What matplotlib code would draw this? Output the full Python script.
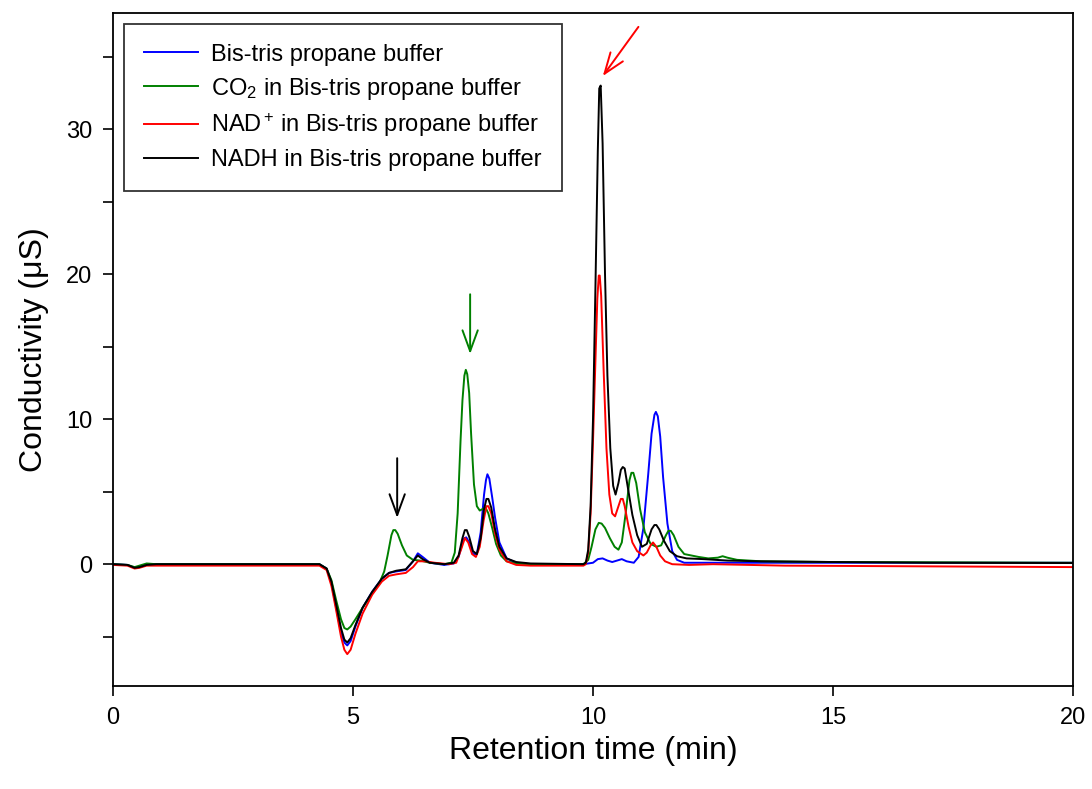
import numpy as np
import matplotlib
matplotlib.use('Agg')
import matplotlib.pyplot as plt
from matplotlib.ticker import MultipleLocator

plt.rcParams['font.family'] = ['Liberation Sans', 'DejaVu Sans']
plt.rcParams['mathtext.fontset'] = 'custom'
plt.rcParams['mathtext.rm'] = 'Liberation Sans'
plt.rcParams['mathtext.it'] = 'Liberation Sans:italic'

#Bis-tris propane buffer (blue)
t_buf = [0, 0.3, 0.45, 0.55, 0.7, 0.9, 4.3, 4.45, 4.55, 4.65, 4.75, 4.82, 4.88, 4.95, 5.05,
         5.2, 5.4, 5.6, 5.75, 5.9, 6.1, 6.25, 6.35, 6.45, 6.6, 6.9, 7.1, 7.2, 7.28, 7.32, 7.36,
         7.42, 7.5, 7.58, 7.66, 7.73, 7.77, 7.8, 7.84, 7.9, 7.96, 8.05, 8.2, 8.4, 8.7, 9.8, 10.0,
         10.1, 10.2, 10.3, 10.4, 10.5, 10.6, 10.7, 10.85, 10.95, 11.05, 11.15, 11.22, 11.28,
         11.31, 11.35, 11.4, 11.46, 11.55, 11.65, 11.75, 11.9, 13, 20]
y_buf = [0, -0.05, -0.25, -0.2, -0.05, 0, 0, -0.3, -1.3, -3.0, -4.7, -5.4, -5.6, -5.3, -4.3,
         -3.0, -1.9, -1.0, -0.6, -0.5, -0.4, 0.2, 0.75, 0.5, 0.1, -0.05, 0.05, 0.5, 1.5, 1.8, 1.85,
         1.5, 0.7, 0.7, 2.2, 4.8, 5.8, 6.2, 5.9, 4.6, 3.2, 1.5, 0.4, 0.1, 0, 0, 0.1,
         0.35, 0.4, 0.25, 0.15, 0.25, 0.35, 0.2, 0.1, 0.5, 2.5, 6.2, 9.0, 10.3,
         10.5, 10.2, 8.8, 6.0, 2.8, 0.9, 0.3, 0.1, 0.1, 0.1]

#CO2 in buffer (green)
t_co2 = [0, 0.3, 0.45, 0.55, 0.7, 0.9, 4.3, 4.45, 4.55, 4.65, 4.75, 4.82, 4.88, 4.95, 5.05,
         5.2, 5.4, 5.55, 5.65, 5.72, 5.8, 5.84, 5.88, 5.93, 6.02, 6.12, 6.25, 6.4, 6.6, 6.9, 7.05,
         7.12, 7.18, 7.24, 7.28, 7.32, 7.35, 7.38, 7.42, 7.46, 7.52, 7.58, 7.64, 7.7, 7.76, 7.82,
         7.9, 7.98, 8.08, 8.2, 8.4, 8.7, 9.8, 9.9, 9.97, 10.05, 10.12, 10.18, 10.25, 10.35, 10.45,
         10.53, 10.6, 10.68, 10.76, 10.8, 10.84, 10.9, 10.98, 11.08, 11.2, 11.32, 11.42, 11.52,
         11.57, 11.62, 11.68, 11.78, 11.9, 12.05, 12.2, 12.4, 12.6, 12.7, 12.8, 13, 13.5, 15, 20]
y_co2 = [0, -0.05, -0.2, -0.1, 0.05, 0, 0, -0.3, -1.1, -2.5, -3.8, -4.4, -4.5, -4.3, -3.8,
         -3.0, -2.0, -1.3, -0.5, 0.6, 2.0, 2.35, 2.35, 2.1, 1.3, 0.6, 0.3, 0.25, 0.1, 0, 0.1,
         0.8, 3.5, 8.5, 11.3, 13.0, 13.4, 13.1, 11.8, 9.0, 5.5, 4.0, 3.7, 3.8, 3.9, 3.5,
         2.5, 1.4, 0.6, 0.2, 0.05, 0, 0, 0.3, 1.2, 2.4, 2.85, 2.8, 2.5, 1.8, 1.2,
         1.0, 1.5, 3.5, 5.8, 6.3, 6.3, 5.6, 3.8, 2.2, 1.4, 1.2, 1.3, 2.0,
         2.3, 2.3, 2.0, 1.2, 0.7, 0.6, 0.5, 0.4, 0.45, 0.55, 0.45, 0.3, 0.2, 0.15, 0.1]

#NAD+ in buffer (red)
t_nad = [0, 0.3, 0.45, 0.55, 0.7, 2, 4.3, 4.45, 4.55, 4.65, 4.75, 4.82, 4.88, 4.95, 5.05,
         5.2, 5.4, 5.6, 5.75, 5.9, 6.1, 6.25, 6.35, 6.5, 6.7, 7.0, 7.15, 7.25, 7.33, 7.4,
         7.48, 7.56, 7.64, 7.72, 7.78, 7.82, 7.88, 7.96, 8.05, 8.2, 8.4, 8.7, 9.8, 9.85, 9.9, 9.95,
         10.0, 10.05, 10.09, 10.12, 10.14, 10.17, 10.22, 10.28, 10.34, 10.4, 10.46, 10.53, 10.58,
         10.62, 10.66, 10.74, 10.82, 10.92, 11.05, 11.12, 11.2, 11.25, 11.32, 11.4, 11.5, 11.65,
         12, 12.5, 14, 17, 20]
y_nad = [-0.05, -0.1, -0.3, -0.25, -0.1, -0.1, -0.1, -0.4, -1.5, -3.2, -5.0, -5.9, -6.2, -5.9, -4.8,
         -3.4, -2.1, -1.2, -0.8, -0.7, -0.6, -0.2, 0.2, 0.2, 0.1, 0, 0.1, 1.0, 1.8, 1.5,
         0.7, 0.5, 1.2, 3.0, 4.0, 4.0, 3.5, 2.1, 1.0, 0.2, -0.05, -0.1, -0.1, 0, 0.8, 3.5,
         8.5, 14.0, 18.3, 19.9, 19.9, 18.5, 13.5, 8.0, 4.8, 3.5, 3.3, 4.0, 4.5,
         4.5, 4.0, 2.6, 1.5, 0.9, 0.6, 0.8, 1.3, 1.5, 1.2, 0.6, 0.2, 0,
         -0.05, 0, -0.1, -0.15, -0.2]

#NADH in buffer (black)
t_nadh = [0, 0.3, 0.45, 0.55, 0.7, 0.9, 4.3, 4.45, 4.55, 4.65, 4.75, 4.82, 4.88, 4.95, 5.05,
          5.2, 5.4, 5.6, 5.75, 5.9, 6.1, 6.25, 6.35, 6.45, 6.6, 6.9, 7.1, 7.2, 7.28, 7.33, 7.37,
          7.42, 7.5, 7.58, 7.66, 7.73, 7.78, 7.82, 7.88, 7.96, 8.05, 8.2, 8.4, 8.7, 9.8, 9.85, 9.9,
          9.95, 10.0, 10.05, 10.1, 10.13, 10.16, 10.2, 10.25, 10.3, 10.36, 10.42, 10.47, 10.53,
          10.58, 10.62, 10.66, 10.74, 10.82, 10.92, 11.02, 11.12, 11.22, 11.28, 11.32, 11.38,
          11.48, 11.6, 11.75, 11.95, 12.3, 12.8, 13.5, 15, 17, 20]
y_nadh = [0, -0.05, -0.25, -0.2, -0.05, 0, 0, -0.3, -1.2, -2.8, -4.4, -5.2, -5.4, -5.1, -4.2,
          -3.0, -1.9, -1.0, -0.6, -0.45, -0.35, 0.2, 0.6, 0.35, 0.1, 0, 0.1, 0.6, 1.8, 2.35, 2.35,
          1.9, 0.9, 0.7, 1.8, 3.8, 4.5, 4.5, 3.9, 2.4, 1.2, 0.4, 0.15, 0.05, 0, 0.1, 1.0,
          4.0, 10.0, 19.0, 28.5, 32.8, 33.0, 29.0, 20.0, 13.0, 8.0, 5.4, 4.8, 5.6,
          6.5, 6.7, 6.6, 5.0, 3.4, 2.0, 1.2, 1.4, 2.4, 2.7, 2.7, 2.4,
          1.6, 0.9, 0.55, 0.4, 0.35, 0.25, 0.2, 0.15, 0.1, 0.08]

series = [(t_buf, y_buf, '#0000ff', 'Bis-tris propane buffer'),
          (t_co2, y_co2, '#008000', 'CO$_2$ in Bis-tris propane buffer'),
          (t_nad, y_nad, '#ff0000', r'NAD$^+\,$in Bis-tris propane buffer'),
          (t_nadh, y_nadh, '#000000', 'NADH in Bis-tris propane buffer')]

#arrows: (tail x, tail y, head x, head y, colour)
arrows = [(5.92, 7.5, 5.92, 3.0, 'black'),
          (7.44, 18.8, 7.44, 14.3, '#008000'),
          (10.98, 37.2, 10.17, 33.5, 'red')]

fig = plt.figure(figsize=(10.92, 7.89), dpi=100)
ax = fig.add_axes([0.1035, 0.1305, 0.8791, 0.853])

for t, y, c, lab in series:
    ax.plot(t, y, color=c, lw=1.4, label=lab)

for x0, y0, x1, y1, c in arrows:
    ax.annotate('', xy=(x1, y1), xytext=(x0, y0),
                arrowprops=dict(arrowstyle='->,head_length=1.5,head_width=0.55', color=c, lw=1.4))

ax.set_xlim(0, 20)
ax.set_ylim(-8.4, 38)
ax.xaxis.set_major_locator(MultipleLocator(5))
ax.yaxis.set_major_locator(MultipleLocator(10))
ax.yaxis.set_minor_locator(MultipleLocator(5))
ax.tick_params(axis='both', which='both', direction='out', length=7, width=1.2,
               top=False, right=False, labelsize=17, pad=8)
for s in ax.spines.values():
    s.set_linewidth(1.3)

ax.set_xlabel('Retention time (min)', fontsize=23, labelpad=5)
ax.set_ylabel('Conductivity (μS)', fontsize=23, labelpad=12)

leg = ax.legend(loc='upper left', fontsize=17, frameon=True, fancybox=False,
                edgecolor='black', handlelength=2.3, borderaxespad=0.45,
                borderpad=0.85, labelspacing=0.42, handletextpad=0.55)
leg.get_frame().set_linewidth(1.3)

plt.savefig('out.png', dpi=100)
